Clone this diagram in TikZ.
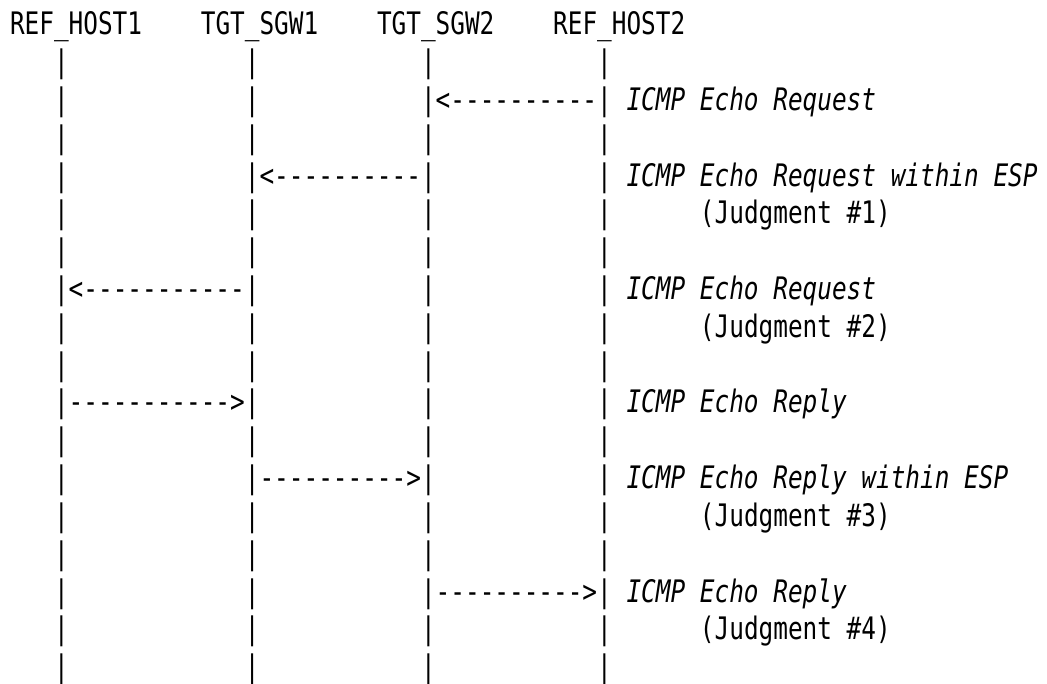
\documentclass[tikz,border=0pt]{standalone}
\usepackage{fontspec}
\newfontfamily\monofam{DejaVu Sans Mono}[FakeStretch=0.7865]
\begin{document}
\begin{tikzpicture}[x=14.68pt,y=-37.8pt,
  ch/.style={anchor=base west,inner sep=0pt,outer sep=0pt,text=black,
    font=\monofam\fontsize{31}{31}\selectfont},
  itx/.style={ch,font=\monofam\itshape\fontsize{31}{31}\selectfont}]
\useasboundingbox (0pt,0pt) rectangle (1047pt,-684pt);
\begin{scope}[shift={(10pt,-35pt)}]
% header
\node[ch] (h1) at (0,0) {REF\_HOST1};
\node[ch] (h2) at (13,0) {TGT\_SGW1};
\node[ch] (h3) at (25,0) {TGT\_SGW2};
\node[ch] (h4) at (37,0) {REF\_HOST2};
% lifeline bars
\foreach \r/\cols in {1/{3,16,28,40},2/{3,16},3/{3,16,28,40},4/{3,40},
  5/{3,16,28,40},6/{3,16,28,40},7/{28,40},8/{3,16,28,40},9/{3,16,28,40},
  10/{28,40},11/{3,16,28,40},12/{3,40},13/{3,16,28,40},14/{3,16,28,40},
  15/{3,16},16/{3,16,28,40},17/{3,16,28,40}}{
  \foreach \c in \cols { \node[ch] (p\r-\c) at (\c,\r) {|}; }
}
% messages
\node[ch] (m1) at (28,2) {|<----------|};
\node[ch] (m2) at (16,4) {|<----------|};
\node[ch] (m3) at (3,7) {|<-----------|};
\node[ch] (m4) at (3,10) {|----------->|};
\node[ch] (m5) at (16,12) {|---------->|};
\node[ch] (m6) at (28,15) {|---------->|};
% labels
\node[itx] (l1) at (42,2) {ICMP Echo Request};
\node[itx] (l2) at (42,4) {ICMP Echo Request within ESP};
\node[ch] (j1) at (47,5) {(Judgment \#1)};
\node[itx] (l3) at (42,7) {ICMP Echo Request};
\node[ch] (j2) at (47,8) {(Judgment \#2)};
\node[itx] (l4) at (42,10) {ICMP Echo Reply};
\node[itx] (l5) at (42,12) {ICMP Echo Reply within ESP};
\node[ch] (j3) at (47,13) {(Judgment \#3)};
\node[itx] (l6) at (42,15) {ICMP Echo Reply};
\node[ch] (j4) at (47,16) {(Judgment \#4)};
\end{scope}
\end{tikzpicture}
\end{document}
